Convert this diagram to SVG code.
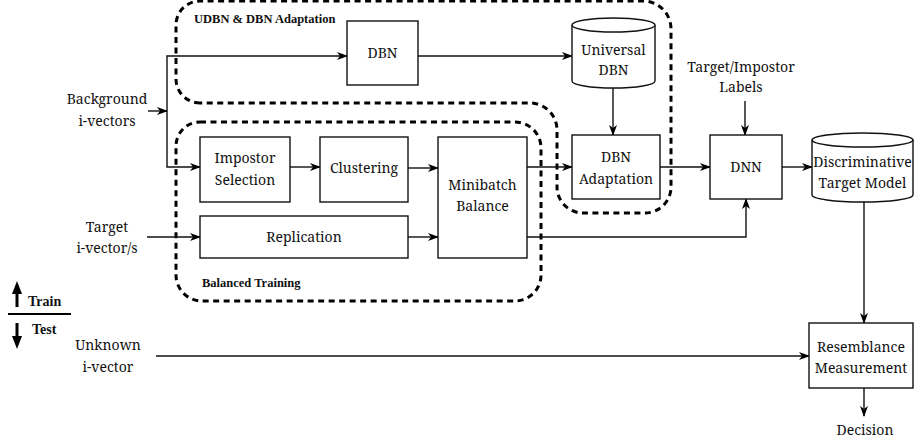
<svg xmlns="http://www.w3.org/2000/svg" width="915" height="443" viewBox="0 0 915 443">
<defs>
<marker id="arr" markerWidth="11" markerHeight="8" refX="10" refY="4" orient="auto" markerUnits="userSpaceOnUse">
<path d="M0,0 L11,4 L0,8 L3,4 Z" fill="#000"/>
</marker>
</defs>
<rect width="915" height="443" fill="#fff"/>

<g id="regions" fill="none" stroke="#000" stroke-width="3" stroke-dasharray="6 4.5">
<path d="M200,103 A24,24 0 0 1 176,79 V25 A24,24 0 0 1 200,1 H643 A28,28 0 0 1 671,29 V187 A26,26 0 0 1 645,213 H583 A26,26 0 0 1 557,187 V130 A27,27 0 0 0 530,103 Z"/>
<path d="M200,122 H515 A26,26 0 0 1 541,148 V275 A26,26 0 0 1 515,301 H202 A26,26 0 0 1 176,275 V146 A24,24 0 0 1 200,122 Z"/>
</g>
<g id="region-labels">
<text x="194" y="23" font-family="Liberation Serif" font-weight="bold" font-size="12.5" fill="#111">UDBN &amp; DBN Adaptation</text>
<text x="202" y="287" font-family="Liberation Serif" font-weight="bold" font-size="12.5" fill="#111">Balanced Training</text>
</g>

<g id="connectors" fill="none" stroke="#111" stroke-width="1.4" marker-end="url(#arr)">
<path d="M148,111 H167"/>
<path d="M167,111 V56 H347"/>
<path d="M167,111 V167 H200"/>
<path d="M418,56 H572"/>
<path d="M613,88 V135"/>
<path d="M290,167 H320"/>
<path d="M408,168 H438"/>
<path d="M147,237 H200"/>
<path d="M408,237 H438"/>
<path d="M527,167 H572"/>
<path d="M660,167 H710"/>
<path d="M745,101 V135"/>
<path d="M782,167 H812"/>
<path d="M527,237 H746 V199"/>
<path d="M864,202 V323"/>
<path d="M156,356 H809"/>
<path d="M864,388 V416"/>
</g>

<g id="background">
<text x="107" y="104" font-family="Noto Serif" font-size="14" text-anchor="middle" fill="#111">Background</text>
<text x="107" y="126" font-family="Noto Serif" font-size="14" text-anchor="middle" fill="#111">i-vectors</text>
</g>
<g id="target">
<text x="107" y="232" font-family="Noto Serif" font-size="14" text-anchor="middle" fill="#111">Target</text>
<text x="107" y="253" font-family="Noto Serif" font-size="14" text-anchor="middle" fill="#111">i-vector/s</text>
</g>
<g id="unknown">
<text x="108" y="350" font-family="Noto Serif" font-size="14" text-anchor="middle" fill="#111">Unknown</text>
<text x="108" y="372" font-family="Noto Serif" font-size="14" text-anchor="middle" fill="#111">i-vector</text>
</g>
<g id="dbn">
<rect x="347" y="21" width="71" height="64" fill="#fff" stroke="#111" stroke-width="1.4"/>
<text x="382.5" y="58" font-family="Noto Serif" font-size="14" text-anchor="middle" fill="#111">DBN</text>
</g>
<g id="udbn">
<path d="M572,25 V81 A41.5,7 0 0 0 655,81 V25" fill="#fff" stroke="#111" stroke-width="1.4"/>
<ellipse cx="613.5" cy="25" rx="41.5" ry="7" fill="#fff" stroke="#111" stroke-width="1.4"/>
<text x="613.5" y="55" font-family="Noto Serif" font-size="14" text-anchor="middle" fill="#111">Universal</text>
<text x="613.5" y="75" font-family="Noto Serif" font-size="14" text-anchor="middle" fill="#111">DBN</text>
</g>
<g id="impostor">
<rect x="200" y="137" width="90" height="65" fill="#fff" stroke="#111" stroke-width="1.4"/>
<text x="245" y="163" font-family="Noto Serif" font-size="14" text-anchor="middle" fill="#111">Impostor</text>
<text x="245" y="185" font-family="Noto Serif" font-size="14" text-anchor="middle" fill="#111">Selection</text>
</g>
<g id="clustering">
<rect x="320" y="137" width="88" height="65" fill="#fff" stroke="#111" stroke-width="1.4"/>
<text x="364" y="173" font-family="Noto Serif" font-size="14" text-anchor="middle" fill="#111">Clustering</text>
</g>
<g id="minibatch">
<rect x="438" y="137" width="89" height="121" fill="#fff" stroke="#111" stroke-width="1.4"/>
<text x="482.5" y="190" font-family="Noto Serif" font-size="14" text-anchor="middle" fill="#111">Minibatch</text>
<text x="482.5" y="211" font-family="Noto Serif" font-size="14" text-anchor="middle" fill="#111">Balance</text>
</g>
<g id="replication">
<rect x="200" y="216" width="208" height="42" fill="#fff" stroke="#111" stroke-width="1.4"/>
<text x="304" y="242" font-family="Noto Serif" font-size="14" text-anchor="middle" fill="#111">Replication</text>
</g>
<g id="dbnadapt">
<rect x="572" y="135" width="88" height="64" fill="#fff" stroke="#111" stroke-width="1.4"/>
<text x="616" y="162" font-family="Noto Serif" font-size="14" text-anchor="middle" fill="#111">DBN</text>
<text x="616" y="184" font-family="Noto Serif" font-size="14" text-anchor="middle" fill="#111">Adaptation</text>
</g>
<g id="labels">
<text x="741" y="72" font-family="Noto Serif" font-size="14" text-anchor="middle" fill="#111">Target/Impostor</text>
<text x="741" y="92" font-family="Noto Serif" font-size="14" text-anchor="middle" fill="#111">Labels</text>
</g>
<g id="dnn">
<rect x="710" y="135" width="72" height="64" fill="#fff" stroke="#111" stroke-width="1.4"/>
<text x="746" y="172" font-family="Noto Serif" font-size="14" text-anchor="middle" fill="#111">DNN</text>
</g>
<g id="dtm">
<path d="M812,140 V195 A50.5,7 0 0 0 913,195 V140" fill="#fff" stroke="#111" stroke-width="1.4"/>
<ellipse cx="862.5" cy="140" rx="50.5" ry="7" fill="#fff" stroke="#111" stroke-width="1.4"/>
<text x="862.5" y="167" font-family="Noto Serif" font-size="14" text-anchor="middle" fill="#111">Discriminative</text>
<text x="862.5" y="188" font-family="Noto Serif" font-size="14" text-anchor="middle" fill="#111">Target Model</text>
</g>
<g id="resemblance">
<rect x="809" y="323" width="104" height="65" fill="#fff" stroke="#111" stroke-width="1.4"/>
<text x="861" y="352" font-family="Noto Serif" font-size="14" text-anchor="middle" fill="#111">Resemblance</text>
<text x="861" y="373" font-family="Noto Serif" font-size="14" text-anchor="middle" fill="#111">Measurement</text>
</g>
<g id="decision">
<text x="865" y="435" font-family="Noto Serif" font-size="14" text-anchor="middle" fill="#111">Decision</text>
</g>
<g id="traintest">
<path d="M17,307 V292" stroke="#000" stroke-width="3"/>
<polygon points="17,281 12,294 22,294" fill="#000"/>
<text x="28" y="306" font-family="Liberation Serif" font-weight="bold" font-size="14" fill="#111">Train</text>
<line x1="8" y1="314" x2="71" y2="314" stroke="#000" stroke-width="2.2"/>
<text x="32" y="334" font-family="Liberation Serif" font-weight="bold" font-size="14" fill="#111">Test</text>
<path d="M17,323 V338" stroke="#000" stroke-width="3"/>
<polygon points="17,349 12,336 22,336" fill="#000"/>
</g>
</svg>
